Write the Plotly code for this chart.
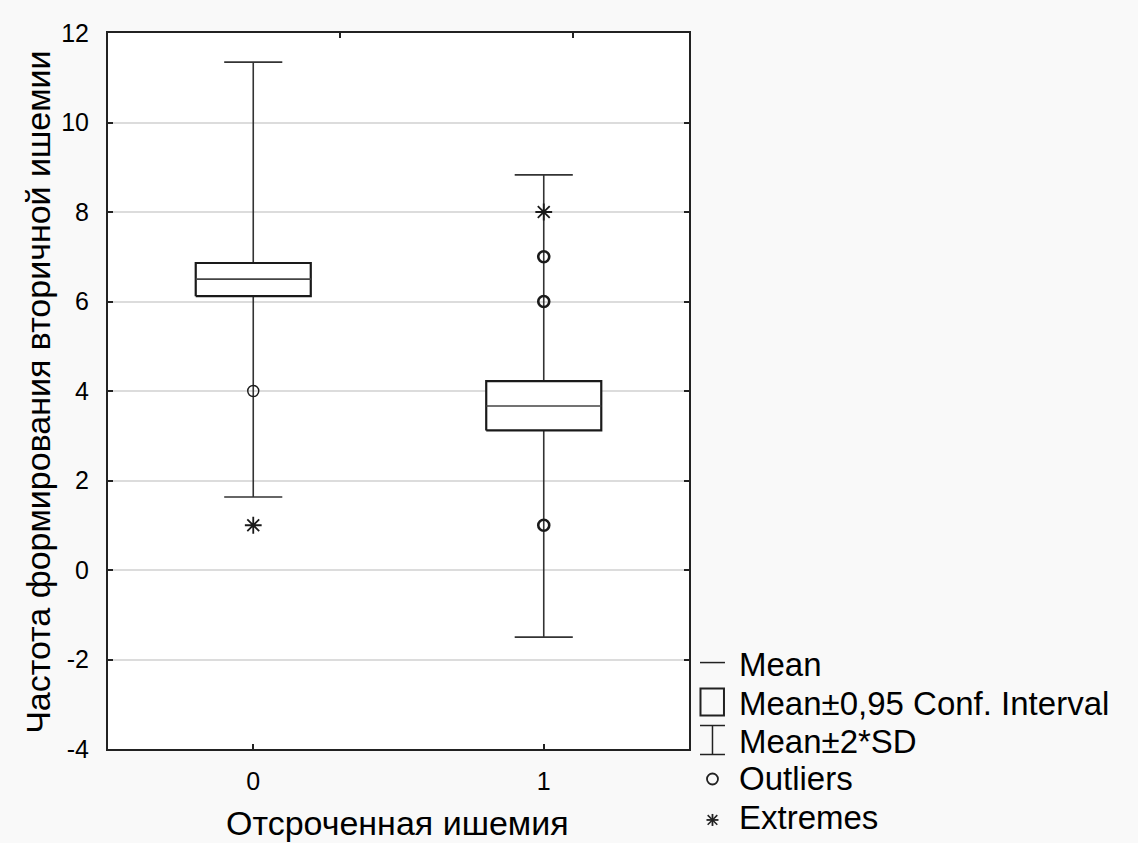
import plotly.graph_objects as go

# Group statistics (mean, 95% CI, mean ± 2·SD)
groups = [0, 1]
means = [6.50, 3.665]
ci_low = [6.12, 3.12]
ci_high = [6.86, 4.22]
sd2_low = [1.63, -1.50]
sd2_high = [11.35, 8.83]

# Outliers and extremes by group
outlier_x = [0, 1, 1, 1]
outlier_y = [4, 7, 6, 1]
extreme_x = [0, 1]
extreme_y = [1, 8]

y_ticks = [-4, -2, 0, 2, 4, 6, 8, 10, 12]
y_ticklabels = ["-4", "-2", "0", "2", "4", "6", "8", "10", "12"]

FONT = "Liberation Sans, Arial, sans-serif"
BOX_HALF = 0.198
CAP_HALF = 0.10

# plot-area geometry in pixels
L, R, T, B = 107.5, 689.0, 32.5, 749.0
W, H = 1138, 843

fig = go.Figure()

# whiskers with caps
wx, wy = [], []
for g, lo, hi in zip(groups, sd2_low, sd2_high):
    wx += [g, g, None, g - CAP_HALF, g + CAP_HALF, None, g - CAP_HALF, g + CAP_HALF, None]
    wy += [lo, hi, None, hi, hi, None, lo, lo, None]
fig.add_trace(go.Scatter(x=wx, y=wy, mode="lines", line=dict(color="#333333", width=1.6),
                         hoverinfo="skip", showlegend=False))

# confidence-interval boxes
for g, lo, hi in zip(groups, ci_low, ci_high):
    fig.add_trace(go.Scatter(
        x=[g - BOX_HALF, g + BOX_HALF, g + BOX_HALF, g - BOX_HALF, g - BOX_HALF],
        y=[lo, lo, hi, hi, lo], mode="lines", fill="toself", fillcolor="white",
        line=dict(color="#1a1a1a", width=2.2), hoverinfo="skip", showlegend=False))

# mean lines
mx, my = [], []
for g, m in zip(groups, means):
    mx += [g - BOX_HALF, g + BOX_HALF, None]
    my += [m, m, None]
fig.add_trace(go.Scatter(x=mx, y=my, mode="lines", line=dict(color="#444444", width=1.6),
                         hoverinfo="skip", showlegend=False))

# outliers
fig.add_trace(go.Scatter(
    x=outlier_x, y=outlier_y, mode="markers",
    marker=dict(symbol="circle-open", size=11, color="#1a1a1a",
                line=dict(color="#1a1a1a", width=[1.4, 2.6, 2.6, 2.6])),
    hoverinfo="skip", showlegend=False))

# extremes
fig.add_trace(go.Scatter(
    x=extreme_x, y=extreme_y, mode="markers",
    marker=dict(symbol="asterisk-open", size=14, color="#1a1a1a",
                line=dict(color="#1a1a1a", width=1.8)),
    hoverinfo="skip", showlegend=False))


def px(x):
    return (x - L) / (R - L)


def py(y):
    return (B - y) / (B - T)


def seg(x0, y0, x1, y1, width=1.5):
    return dict(type="line", xref="paper", yref="paper", x0=px(x0), x1=px(x1),
                y0=py(y0), y1=py(y1), line=dict(color="#222222", width=width))


shapes = []
annotations = []

# legend key symbols
shapes.append(seg(700, 662.5, 725, 662.5))                      # mean
shapes.append(dict(type="rect", xref="paper", yref="paper", x0=px(700.5), x1=px(724),
                   y0=py(688.5), y1=py(715.5), line=dict(color="#222222", width=2)))  # CI
shapes.append(seg(712.5, 725.5, 712.5, 754.5))                  # ±2SD
shapes.append(seg(700, 725.5, 725, 725.5))
shapes.append(seg(700, 754.5, 725, 754.5))
shapes.append(dict(type="circle", xref="paper", yref="paper", x0=px(707), x1=px(718),
                   y0=py(773.5), y1=py(784.5), line=dict(color="#222222", width=1.8)))  # outlier
cx, cy, r = 712.5, 820, 6                                         # extreme
shapes.append(seg(cx - r, cy, cx + r, cy, 1.8))
shapes.append(seg(cx, cy - r, cx, cy + r, 1.8))
shapes.append(seg(cx - r * 0.8, cy - r * 0.8, cx + r * 0.8, cy + r * 0.8, 1.5))
shapes.append(seg(cx - r * 0.8, cy + r * 0.8, cx + r * 0.8, cy - r * 0.8, 1.5))

legend_labels = ["Mean", "Mean±0,95 Conf. Interval", "Mean±2*SD", "Outliers", "Extremes"]
legend_y = [664.5, 703.5, 741, 779, 817.5]
for lab, yy in zip(legend_labels, legend_y):
    annotations.append(dict(text=lab, xref="paper", yref="paper", x=px(737), y=py(yy),
                            xanchor="left", yanchor="middle", showarrow=False,
                            font=dict(family=FONT, size=33, color="black")))

# axis titles
annotations.append(dict(text="Отсроченная ишемия", xref="paper", yref="paper",
                        x=px(397), y=py(823), xanchor="center", yanchor="middle",
                        showarrow=False, font=dict(family=FONT, size=34, color="black")))
annotations.append(dict(text="Частота формирования вторичной ишемии", xref="paper", yref="paper",
                        x=px(38), y=py(392), xanchor="center", yanchor="middle", textangle=-90,
                        showarrow=False, font=dict(family=FONT, size=34, color="black")))

fig.update_layout(
    width=W, height=H,
    margin=dict(l=L, r=W - R, t=T, b=H - B, pad=0),
    paper_bgcolor="#f9f9f9", plot_bgcolor="white",
    showlegend=False,
    shapes=shapes, annotations=annotations,
    xaxis=dict(range=[-0.5, 1.5], tickvals=groups, ticktext=[str(g) for g in groups],
               ticks="inside", ticklen=5, tickwidth=2, tickcolor="#222",
               showline=True, linecolor="#222", linewidth=2, mirror=True,
               showgrid=False, zeroline=False, ticklabelstandoff=9,
               tickfont=dict(family=FONT, size=25, color="black")),
    yaxis=dict(range=[-4, 12], tickvals=y_ticks, ticktext=y_ticklabels,
               ticks="inside", ticklen=5, tickwidth=2,
               tickcolor="#222", showline=True, linecolor="#222", linewidth=2, mirror="ticks",
               showgrid=True, gridcolor="#dcdcdc", gridwidth=1.5, zeroline=False,
               ticklabelstandoff=12, tickfont=dict(family=FONT, size=25, color="black")),
    xaxis2=dict(overlaying="x", side="top", anchor="y", range=[0, 1], tickvals=[0.4, 0.8],
                ticks="inside", ticklen=5, tickwidth=2, tickcolor="#222",
                showticklabels=False, showgrid=False, zeroline=False, showline=False),
)

# invisible trace to activate the top tick axis
fig.add_trace(go.Scatter(x=[0.5], y=[0], xaxis="x2", mode="markers", marker=dict(opacity=0),
                         hoverinfo="skip", showlegend=False))

fig.write_html("out.html")
